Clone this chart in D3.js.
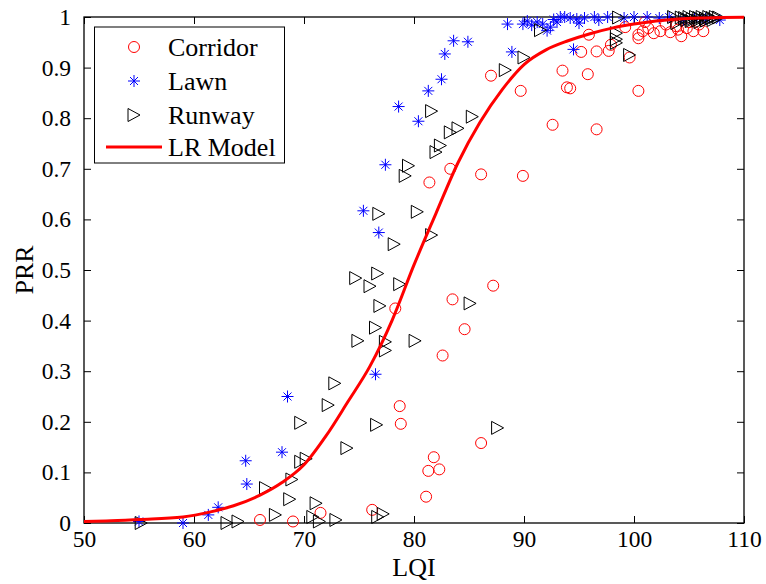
<!DOCTYPE html>
<html>
<head>
<meta charset="utf-8">
<script src="https://cdn.jsdelivr.net/npm/d3@7"></script>
<style>
  body { margin: 0; background: #fff; }
  svg { font-family: "Liberation Serif", "Times New Roman", serif; }
</style>
</head>
<body>
<svg id="chart"></svg>
<script>
// Corridor points [LQI, PRR]
var corridor = [
  [66.0, 0.006], [69.0, 0.003], [71.5, 0.020], [76.2, 0.026], [81.1, 0.052],
  [81.3, 0.103], [82.3, 0.106], [81.8, 0.130], [78.7, 0.231], [78.8, 0.196],
  [78.3, 0.424], [83.5, 0.442], [84.6, 0.383], [82.6, 0.331], [87.2, 0.469],
  [86.1, 0.158], [81.4, 0.673], [83.3, 0.700], [86.1, 0.689], [89.9, 0.686],
  [87.0, 0.884], [89.7, 0.854], [92.6, 0.787], [96.6, 0.778], [93.5, 0.894],
  [93.9, 0.861], [94.2, 0.859], [95.8, 0.887], [100.4, 0.854], [95.2, 0.931],
  [96.6, 0.932], [97.7, 0.933], [97.9, 0.945], [95.9, 0.965], [99.2, 0.980],
  [99.6, 0.920], [100.4, 0.958], [100.4, 0.965], [100.8, 0.972], [101.3, 0.978],
  [101.8, 0.968], [102.4, 0.972], [103.3, 0.970], [104.3, 0.962], [104.8, 0.978],
  [105.4, 0.972], [106.3, 0.972], [102.9, 0.985], [103.8, 0.982], [105.0, 0.990],
  [105.9, 0.985], [101.0, 0.990], [104.0, 0.975]
];

// Lawn points
var lawn = [
  [55.0, 0.003], [59.0, 0.0], [61.3, 0.016], [62.2, 0.031], [64.8, 0.077],
  [64.7, 0.123], [68.0, 0.140], [68.5, 0.250], [76.5, 0.294], [75.4, 0.617],
  [76.8, 0.574], [77.4, 0.708], [80.4, 0.794], [78.6, 0.823], [81.3, 0.854],
  [82.5, 0.877], [82.8, 0.927], [83.6, 0.953], [84.9, 0.951], [88.9, 0.931],
  [94.5, 0.936], [88.5, 0.986], [89.9, 0.986], [90.7, 0.984], [91.7, 0.986],
  [92.1, 0.973], [92.7, 0.995], [93.3, 1.0], [93.7, 1.0], [94.2, 0.998],
  [95.0, 0.988], [95.5, 0.998], [96.4, 1.0], [96.8, 0.994], [97.6, 1.0],
  [99.1, 0.998], [100.0, 1.0], [101.2, 1.0], [102.3, 0.998], [103.2, 1.0],
  [104.5, 0.995], [105.5, 0.998], [106.5, 0.996], [107.8, 0.994],
  [90.3, 0.992], [92.4, 0.980], [93.0, 0.990], [91.2, 0.990], [94.8, 0.996]
];

// Runway points
var runway = [
  [55.2, 0.0], [63.0, 0.0], [64.0, 0.003], [66.5, 0.069], [67.4, 0.016],
  [68.7, 0.047], [68.9, 0.086], [69.7, 0.121], [69.7, 0.198], [70.2, 0.127],
  [71.1, 0.039], [70.8, 0.012], [71.4, 0.003], [72.9, 0.006], [73.9, 0.148],
  [72.2, 0.233], [72.8, 0.276], [74.9, 0.360], [74.7, 0.484], [76.0, 0.468],
  [76.7, 0.493], [78.7, 0.472], [76.9, 0.429], [76.5, 0.386], [77.4, 0.358],
  [77.4, 0.341], [80.1, 0.360], [76.6, 0.194], [77.2, 0.018], [76.7, 0.012],
  [85.1, 0.434], [87.6, 0.188], [76.8, 0.611], [80.3, 0.615], [81.6, 0.569],
  [78.2, 0.551], [81.6, 0.814], [85.3, 0.803], [83.3, 0.772], [84.0, 0.780],
  [82.0, 0.733], [82.4, 0.746], [79.5, 0.706], [79.2, 0.686], [88.3, 0.895],
  [90.0, 0.920], [91.5, 0.974], [98.6, 0.999], [98.4, 0.968], [98.4, 0.956],
  [98.4, 0.949], [99.6, 0.925], [103.6, 1.0], [103.9, 0.988], [104.6, 0.998],
  [105.0, 1.0], [105.3, 0.996], [105.6, 1.0], [105.9, 0.998], [106.2, 1.0],
  [106.5, 0.997], [106.8, 1.0], [107.1, 0.998], [107.4, 1.0], [107.7, 0.999],
  [105.2, 0.992], [106.0, 0.990], [104.8, 0.994], [105.8, 0.993], [106.6, 0.993],
  [107.2, 0.994], [104.3, 0.999]
];

// LR model curve
var modelLQI = [50, 52, 55, 59, 61.5, 63.6, 66, 68, 70, 72, 74, 76, 78, 80, 82,
                84, 86, 88, 90, 92, 94, 96, 98, 100, 102, 104, 106, 108, 110];
var modelPRR = [0.003, 0.004, 0.007, 0.012, 0.022, 0.034, 0.055, 0.08, 0.115, 0.172,
                0.24, 0.31, 0.40, 0.51, 0.612, 0.712, 0.792, 0.856, 0.906, 0.935,
                0.953, 0.967, 0.978, 0.986, 0.992, 0.996, 0.998, 0.999, 0.9995];

var xTicks = [50, 60, 70, 80, 90, 100, 110];
var yTicks = [0, 0.1, 0.2, 0.3, 0.4, 0.5, 0.6, 0.7, 0.8, 0.9, 1];
var legendNames = ["Corridor", "Lawn", "Runway", "LR Model"];

var width = 766, height = 584;
var pLeft = 84, pRight = 744, pTop = 17, pBottom = 523;

var svg = d3.select('#chart')
    .attr('width', width)
    .attr('height', height);

var x = d3.scaleLinear().domain([50, 110]).range([pLeft, pRight]);
var y = d3.scaleLinear().domain([0, 1]).range([pBottom, pTop]);

// ticks inside on all four sides
var tl = 7;
var axes = svg.append('g');
axes.append('g')
    .attr('transform', 'translate(0,' + pBottom + ')')
    .call(d3.axisBottom(x).tickValues(xTicks).tickSizeInner(-tl).tickSizeOuter(0).tickPadding(7).tickFormat(d3.format('d')));
axes.append('g')
    .attr('transform', 'translate(0,' + pTop + ')')
    .call(d3.axisTop(x).tickValues(xTicks).tickSizeInner(-tl).tickSizeOuter(0).tickFormat(''));
axes.append('g')
    .attr('transform', 'translate(' + pLeft + ',0)')
    .call(d3.axisLeft(y).tickValues(yTicks).tickSizeInner(-tl).tickSizeOuter(0).tickPadding(13).tickFormat(d => d === 0 || d === 1 ? d : d3.format('.1f')(d)));
axes.append('g')
    .attr('transform', 'translate(' + pRight + ',0)')
    .call(d3.axisRight(y).tickValues(yTicks).tickSizeInner(-tl).tickSizeOuter(0).tickFormat(''));

axes.selectAll('.domain').remove();
axes.selectAll('.tick line').attr('stroke', '#000').attr('stroke-width', 1);
axes.selectAll('.tick text')
    .attr('fill', '#000')
    .style('font-family', '"Liberation Serif", serif')
    .style('font-size', '23.5px');

// frame
svg.append('rect')
    .attr('x', pLeft).attr('y', pTop)
    .attr('width', pRight - pLeft).attr('height', pBottom - pTop)
    .attr('fill', 'none').attr('stroke', '#000').attr('stroke-width', 1.3);

// axis labels
svg.append('text')
    .attr('x', (pLeft + pRight) / 2).attr('y', 576)
    .attr('text-anchor', 'middle')
    .style('font-size', '26px')
    .text('LQI');
svg.append('text')
    .attr('transform', 'translate(33,' + ((pTop + pBottom) / 2) + ') rotate(-90)')
    .attr('text-anchor', 'middle')
    .style('font-size', '26px')
    .text('PRR');

// marker shapes
function circleMark(sel) {
  sel.append('circle').attr('r', 5.5)
      .attr('fill', 'none').attr('stroke', '#ff0000').attr('stroke-width', 1);
}
function starMark(sel) {
  var a = 6, b = 4;
  sel.append('path')
      .attr('d', 'M' + (-a) + ',0H' + a + 'M0,' + (-a) + 'V' + a +
                 'M' + (-b) + ',' + (-b) + 'L' + b + ',' + b + 'M' + (-b) + ',' + b + 'L' + b + ',' + (-b))
      .attr('fill', 'none').attr('stroke', '#0000ff').attr('stroke-width', 1);
}
function triMark(sel) {
  sel.append('path')
      .attr('d', 'M-6,-6.5L6,0L-6,6.5Z')
      .attr('fill', 'none').attr('stroke', '#000').attr('stroke-width', 1);
}

var plot = svg.append('g');

plot.selectAll('g.corr')
    .data(corridor)
    .enter()
    .append('g')
    .attr('class', 'corr')
    .attr('transform', d => 'translate(' + x(d[0]) + ',' + y(d[1]) + ')')
    .call(circleMark);

plot.selectAll('g.lawn')
    .data(lawn)
    .enter()
    .append('g')
    .attr('class', 'lawn')
    .attr('transform', d => 'translate(' + x(d[0]) + ',' + y(d[1]) + ')')
    .call(starMark);

plot.selectAll('g.run')
    .data(runway)
    .enter()
    .append('g')
    .attr('class', 'run')
    .attr('transform', d => 'translate(' + x(d[0]) + ',' + y(d[1]) + ')')
    .call(triMark);

// LR model line
var model = modelLQI.map((v, i) => [v, modelPRR[i]]);
var line = d3.line()
    .x(d => x(d[0]))
    .y(d => y(d[1]))
    .curve(d3.curveMonotoneX);
plot.append('path')
    .datum(model)
    .attr('d', line)
    .attr('fill', 'none')
    .attr('stroke', '#ff0000')
    .attr('stroke-width', 3);

// legend
var lg = svg.append('g');
lg.append('rect')
    .attr('x', 94.5).attr('y', 27)
    .attr('width', 190).attr('height', 136)
    .attr('fill', '#fff').attr('stroke', '#000').attr('stroke-width', 1);

var rowY = [47, 81, 115, 147];
var marks = [circleMark, starMark, triMark, null];
legendNames.forEach(function(name, i) {
  var row = lg.append('g').attr('transform', 'translate(0,' + rowY[i] + ')');
  if (marks[i]) {
    row.append('g').attr('transform', 'translate(134,0)').call(marks[i]);
  } else {
    row.append('line')
        .attr('x1', 106).attr('x2', 162)
        .attr('stroke', '#ff0000').attr('stroke-width', 3);
  }
  row.append('text')
      .attr('x', 168).attr('dy', '0.35em')
      .style('font-size', '26px')
      .text(name);
});
</script>
</body>
</html>
